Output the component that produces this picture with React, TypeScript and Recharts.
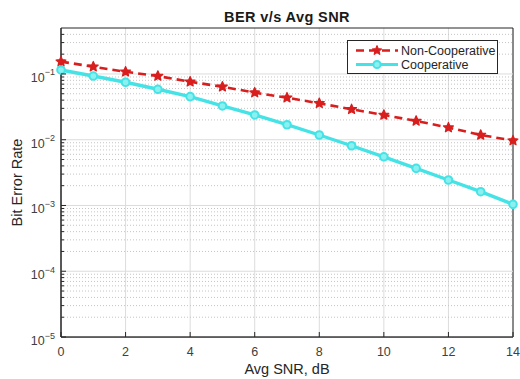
import React from 'react';
import {
  LineChart,
  Line,
  XAxis,
  YAxis,
  CartesianGrid,
  ReferenceLine,
  ReferenceArea,
  Legend,
} from 'recharts';

// ---- data ----
const snrDb = [0, 1, 2, 3, 4, 5, 6, 7, 8, 9, 10, 11, 12, 13, 14];
const berNonCooperative = [
  0.154, 0.129, 0.108, 0.093, 0.076, 0.064, 0.052, 0.0436, 0.0358, 0.029, 0.0238, 0.0193, 0.0153,
  0.0118, 0.0097,
];
const berCooperative = [
  0.115, 0.093, 0.0748, 0.0585, 0.0452, 0.0326, 0.0238, 0.0169, 0.0118, 0.0081, 0.0055, 0.00367,
  0.00244, 0.00162, 0.00104,
];
const xTicks = [0, 2, 4, 6, 8, 10, 12, 14];
const yMajorTicks = [1e-5, 1e-4, 1e-3, 1e-2, 1e-1];
const yExponents = ['\u22125', '\u22124', '\u22123', '\u22122', '\u22121'];
const minorMultipliers = [2, 3, 4, 5, 6, 7, 8, 9];
const yDomain: [number, number] = [1e-5, 0.5];
const seriesNames = { non: 'Non-Cooperative', coop: 'Cooperative' };
const legendOrder = ['non', 'coop'];

const yMinorTicks: number[] = [];
yMajorTicks.forEach((d) => {
  minorMultipliers.forEach((m) => {
    const v = Number((d * m).toPrecision(3));
    if (v < yDomain[1]) yMinorTicks.push(v);
  });
});
const yAllTicks = [...yMajorTicks, ...yMinorTicks].sort((a, b) => a - b);

const data = snrDb.map((x, i) => ({
  snr: x,
  non: berNonCooperative[i],
  coop: berCooperative[i],
}));

const RED = '#d91e1e';
const CYAN = '#45e3e6';
const AXIS = '#262626';
const FONT = '"Liberation Sans", Arial, Helvetica, sans-serif';

const starPath = (cx: number, cy: number, R: number, r: number) => {
  let d = '';
  for (let k = 0; k < 10; k++) {
    const rad = k % 2 === 0 ? R : r;
    const a = -Math.PI / 2 + (k * Math.PI) / 5;
    d += (k === 0 ? 'M' : 'L') + (cx + rad * Math.cos(a)).toFixed(2) + ',' + (cy + rad * Math.sin(a)).toFixed(2);
  }
  return d + 'Z';
};

const StarDot = (p: any) => {
  if (p.cx == null || p.cy == null) return <g key={`s-${p.index}`} />;
  return (
    <path
      key={`s-${p.index}`}
      d={starPath(p.cx, p.cy, 5.2, 2.4)}
      fill={RED}
      stroke={RED}
      strokeWidth={1.2}
      strokeLinejoin="round"
    />
  );
};

const CircleDot = (p: any) => {
  if (p.cx == null || p.cy == null) return <g key={`c-${p.index}`} />;
  return (
    <circle key={`c-${p.index}`} cx={p.cx} cy={p.cy} r={3.8} fill="#8cf0f0" stroke={CYAN} strokeWidth={2} />
  );
};

const XTickBottom = (p: any) => {
  const { x, y, payload } = p;
  return (
    <g>
      <line x1={x} x2={x} y1={y} y2={y - 5} stroke={AXIS} strokeWidth={1} />
      <text x={x} y={y + 15} textAnchor="middle" dominantBaseline="central" fontSize={12.5} fill="#404040" fontFamily={FONT}>
        {payload.value}
      </text>
    </g>
  );
};

const XTickTop = (p: any) => {
  const { x, y } = p;
  return <line x1={x} x2={x} y1={y} y2={y + 5} stroke={AXIS} strokeWidth={1} />;
};

const YTickLeft = (p: any) => {
  const { x, y, payload } = p;
  const idx = yMajorTicks.indexOf(payload.value);
  const major = idx >= 0;
  return (
    <g>
      <line x1={x} x2={x + (major ? 5 : 3)} y1={y} y2={y} stroke={AXIS} strokeWidth={1} />
      {major && (
        <text x={x - 6} y={y + 4} textAnchor="end" dominantBaseline="central" fontSize={12.5} fill="#404040" fontFamily={FONT}>
          10
          <tspan dy={-5.5} fontSize={9}>
            {yExponents[idx]}
          </tspan>
        </text>
      )}
    </g>
  );
};

const YTickRight = (p: any) => {
  const { x, y, payload } = p;
  const major = yMajorTicks.indexOf(payload.value) >= 0;
  return <line x1={x} x2={x - (major ? 5 : 3)} y1={y} y2={y} stroke={AXIS} strokeWidth={1} />;
};

const LegendContent = (props: any) => {
  const payload = [...(props.payload || [])].sort(
    (a: any, b: any) => legendOrder.indexOf(a.dataKey) - legendOrder.indexOf(b.dataKey)
  );
  return (
    <svg width={151} height={34} style={{ display: 'block' }}>
      <rect x={0.5} y={0.5} width={150} height={33} fill="#fff" stroke={AXIS} strokeWidth={1} />
      {payload.map((e: any, i: number) => {
        const cy = 10.5 + i * 14;
        const isNon = e.dataKey === 'non';
        return (
          <g key={e.value}>
            {isNon ? (
              <>
                <line x1={9} x2={51} y1={cy} y2={cy} stroke={RED} strokeWidth={2.6} strokeDasharray="8 5" />
                <path d={starPath(30, cy, 5, 2.3)} fill={RED} stroke={RED} strokeWidth={1} />
              </>
            ) : (
              <>
                <line x1={9} x2={51} y1={cy} y2={cy} stroke={CYAN} strokeWidth={3.2} />
                <circle cx={30} cy={cy} r={3.6} fill="#8cf0f0" stroke={CYAN} strokeWidth={2} />
              </>
            )}
            <text x={54} y={cy + 0.5} dominantBaseline="central" fontSize={12.5} fill="#262626" fontFamily={FONT}>
              {e.value}
            </text>
          </g>
        );
      })}
    </svg>
  );
};

export default function App() {
  return (
    <div style={{ position: 'absolute', left: 0, top: 0, width: 520, height: 379, background: '#fff', fontFamily: FONT }}>
      <div
        style={{
          position: 'absolute',
          left: 61,
          width: 452,
          top: 8,
          textAlign: 'center',
          fontSize: 14.5,
          letterSpacing: 0.4,
          fontWeight: 'bold',
          color: '#1a1a1a',
          lineHeight: '18px',
        }}
      >
        BER v/s Avg SNR
      </div>
      <LineChart width={520} height={379} data={data} margin={{ top: 28, right: 7, left: 0, bottom: 0 }}>
        <CartesianGrid horizontal={false} vertical stroke="#dcdcdc" strokeWidth={1} />
        {yMinorTicks.map((v) => (
          <ReferenceLine key={`mn-${v}`} y={v} stroke="#c4c4c4" strokeDasharray="1 2" strokeWidth={1} ifOverflow="hidden" />
        ))}
        {yMajorTicks.map((v) => (
          <ReferenceLine key={`mj-${v}`} y={v} stroke="#dcdcdc" strokeWidth={1} ifOverflow="hidden" />
        ))}
        <XAxis
          dataKey="snr"
          type="number"
          domain={[0, 14]}
          ticks={xTicks}
          height={42}
          tickSize={0}
          tickMargin={0}
          tickLine={false}
          axisLine={{ stroke: AXIS }}
          tick={<XTickBottom />}
          interval={0}
          label={{
            content: (lp: any) => {
              const vb = lp.viewBox || { x: 61, width: 452 };
              return (
                <text x={vb.x + vb.width / 2} y={369} textAnchor="middle" dominantBaseline="central" fontSize={14.5} fill="#262626" fontFamily={FONT}>
                  Avg SNR, dB
                </text>
              );
            },
          }}
        />
        <XAxis
          xAxisId="top"
          orientation="top"
          dataKey="snr"
          type="number"
          domain={[0, 14]}
          ticks={xTicks}
          height={0}
          tickSize={0}
          tickMargin={0}
          tickLine={false}
          axisLine={false}
          tick={<XTickTop />}
          interval={0}
        />
        <YAxis
          scale="log"
          type="number"
          domain={yDomain}
          allowDataOverflow
          ticks={yAllTicks}
          interval={0}
          width={61}
          tickSize={0}
          tickMargin={0}
          tickLine={false}
          axisLine={{ stroke: AXIS }}
          tick={<YTickLeft />}
          label={{
            content: (lp: any) => {
              const vb = lp.viewBox || { y: 28, height: 309 };
              const cy = vb.y + vb.height / 2;
              return (
                <text
                  x={17}
                  y={cy}
                  transform={`rotate(-90, 17, ${cy})`}
                  textAnchor="middle"
                  dominantBaseline="central"
                  fontSize={14.5}
                  fill="#262626"
                  fontFamily={FONT}
                >
                  Bit Error Rate
                </text>
              );
            },
          }}
        />
        <YAxis
          yAxisId="right"
          orientation="right"
          scale="log"
          type="number"
          domain={yDomain}
          allowDataOverflow
          ticks={yAllTicks}
          interval={0}
          width={0}
          tickSize={0}
          tickMargin={0}
          tickLine={false}
          axisLine={false}
          tick={<YTickRight />}
        />
        <ReferenceArea x1={0} x2={14} y1={yDomain[0]} y2={yDomain[1]} fill="none" stroke={AXIS} strokeWidth={1} ifOverflow="visible" />
        <Line
          dataKey="non"
          name={seriesNames.non}
          type="linear"
          stroke={RED}
          strokeWidth={2.6}
          strokeDasharray="8 5"
          dot={(p: any) => <StarDot {...p} key={`s-${p.index}`} />}
          activeDot={false}
          isAnimationActive={false}
        />
        <Line
          dataKey="coop"
          name={seriesNames.coop}
          type="linear"
          stroke={CYAN}
          strokeWidth={3.4}
          dot={(p: any) => <CircleDot {...p} key={`c-${p.index}`} />}
          activeDot={false}
          isAnimationActive={false}
        />
        <Legend
          layout="vertical"
          align="center"
          verticalAlign="middle"
          content={<LegendContent />}
          wrapperStyle={{ left: 347, top: 40, width: 151, height: 34, margin: 0 }}
        />
      </LineChart>
    </div>
  );
}
